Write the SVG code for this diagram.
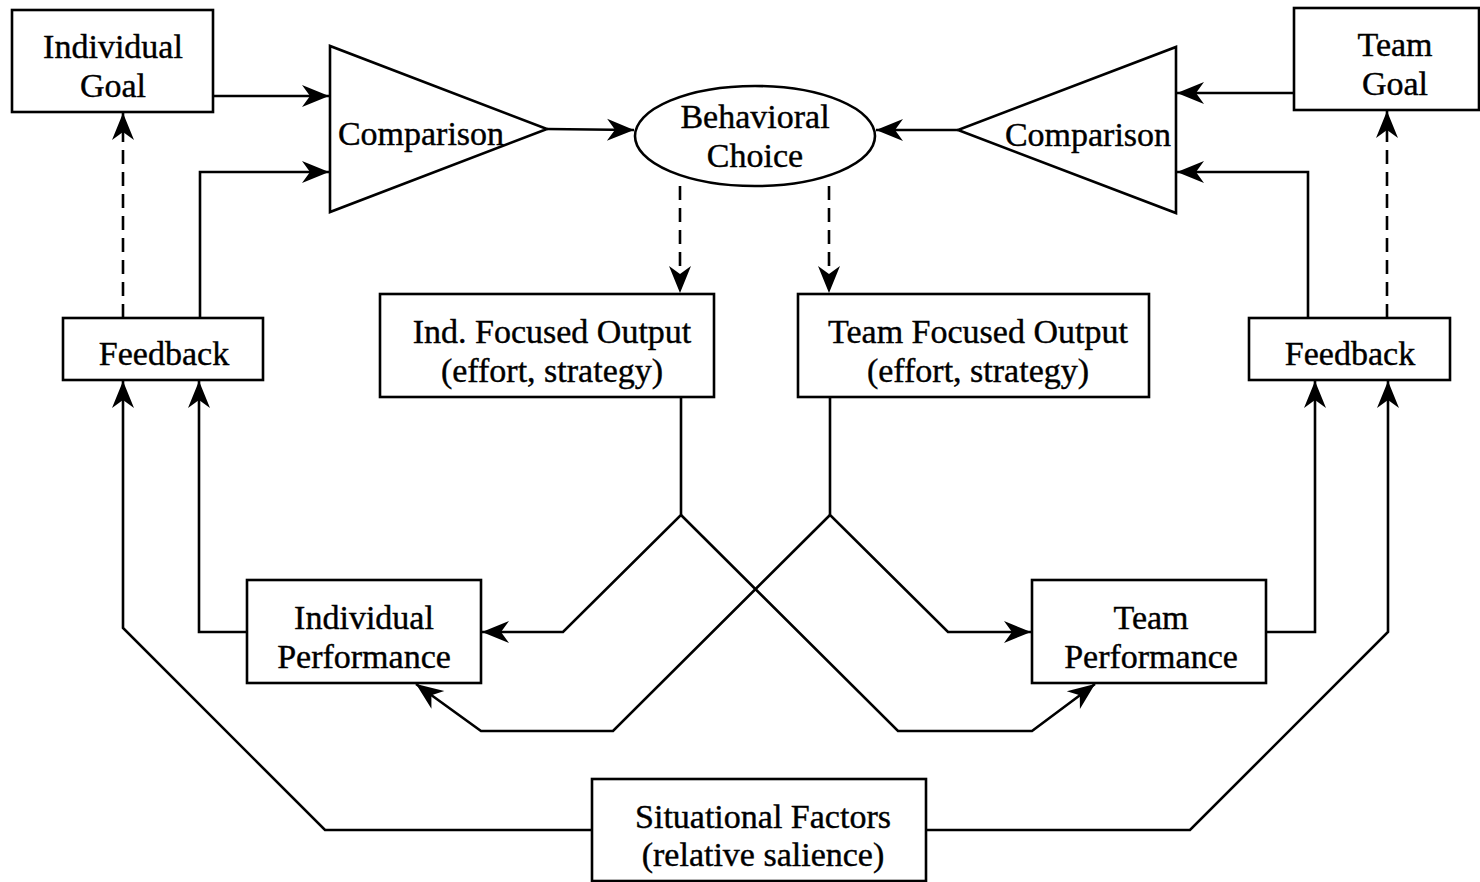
<svg xmlns="http://www.w3.org/2000/svg" width="1480" height="882" viewBox="0 0 1480 882">
<style>
.box{fill:#fff;stroke:#000;stroke-width:2.6}
.ln{fill:none;stroke:#000;stroke-width:2.6;marker-end:url(#ah)}
.ds{stroke-dasharray:14 8}
text{font-family:"Liberation Serif","Times New Roman",serif;font-size:34px;text-anchor:middle;fill:#000;stroke:#000;stroke-width:0.4}
</style>
<defs>
<marker id="ah" viewBox="-30 -13 32 26" refX="0" refY="0" markerWidth="32" markerHeight="26" markerUnits="userSpaceOnUse" orient="auto">
<path d="M0,0 L-27,-11 L-19,0 L-27,11 Z" fill="#000"/>
</marker>
</defs>
<rect width="1480" height="882" fill="#fff"/>
<g id="connectors">
<path class="ln" d="M213,96 L329,96"/>
<path class="ln" d="M200,318 L200,172 L329,172"/>
<path class="ln ds" d="M123,318 L123,113"/>
<path class="ln" d="M547,129 L634,130"/>
<path class="ln" d="M958,130 L876,130"/>
<path class="ln" d="M1294,93 L1177,93"/>
<path class="ln" d="M1308,318 L1308,172 L1177,172"/>
<path class="ln ds" d="M1387,318 L1387,111"/>
<path class="ln ds" d="M680,186 L680,293"/>
<path class="ln ds" d="M829,186 L829,293"/>
<path class="ln" d="M681,397 L681,515 L563,632 L482,632"/>
<path class="ln" d="M681,515 L898,731 L1032,731 L1095,684"/>
<path class="ln" d="M830,397 L830,515 L948,632 L1031,632"/>
<path class="ln" d="M830,515 L613,731 L481,731 L416,684"/>
<path class="ln" d="M247,632 L199,632 L199,381"/>
<path class="ln" d="M1266,632 L1315,632 L1315,381"/>
<path class="ln" d="M592,830 L325,830 L123,628 L123,381"/>
<path class="ln" d="M926,830 L1190,830 L1388,632 L1388,381"/>
</g>
<g id="individual-goal">
<rect class="box" x="12" y="10" width="201" height="102"/>
<text x="113" y="58">Individual</text>
<text x="113" y="97">Goal</text>
</g>
<g id="comparison-left">
<polygon class="box" points="330,46 330,212 547,129"/>
<text x="421" y="145">Comparison</text>
</g>
<g id="behavioral-choice">
<ellipse class="box" cx="755" cy="136" rx="120" ry="50"/>
<text x="755" y="128">Behavioral</text>
<text x="755" y="167">Choice</text>
</g>
<g id="comparison-right">
<polygon class="box" points="1176,47 1176,213 958,130"/>
<text x="1088" y="146">Comparison</text>
</g>
<g id="team-goal">
<rect class="box" x="1294" y="8" width="185" height="102"/>
<text x="1395" y="56">Team</text>
<text x="1395" y="95">Goal</text>
</g>
<g id="feedback-left">
<rect class="box" x="63" y="318" width="200" height="62"/>
<text x="164" y="365">Feedback</text>
</g>
<g id="feedback-right">
<rect class="box" x="1249" y="318" width="201" height="62"/>
<text x="1350" y="365">Feedback</text>
</g>
<g id="ind-focused-output">
<rect class="box" x="380" y="294" width="334" height="103"/>
<text x="552" y="343">Ind. Focused Output</text>
<text x="552" y="382">(effort, strategy)</text>
</g>
<g id="team-focused-output">
<rect class="box" x="798" y="294" width="351" height="103"/>
<text x="978" y="343">Team Focused Output</text>
<text x="978" y="382">(effort, strategy)</text>
</g>
<g id="individual-performance">
<rect class="box" x="247" y="580" width="234" height="103"/>
<text x="364" y="629">Individual</text>
<text x="364" y="668">Performance</text>
</g>
<g id="team-performance">
<rect class="box" x="1032" y="580" width="234" height="103"/>
<text x="1151" y="629">Team</text>
<text x="1151" y="668">Performance</text>
</g>
<g id="situational-factors">
<rect class="box" x="592" y="779" width="334" height="102"/>
<text x="763" y="828">Situational Factors</text>
<text x="763" y="866">(relative salience)</text>
</g>
</svg>
